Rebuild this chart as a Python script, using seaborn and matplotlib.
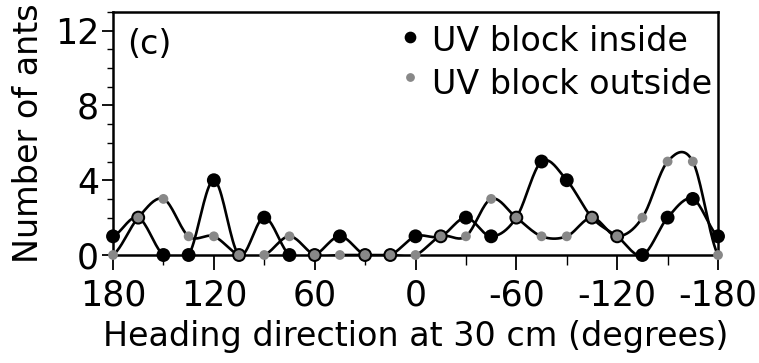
import numpy as np
import pandas as pd
import matplotlib
matplotlib.use("Agg")
import matplotlib.pyplot as plt
import seaborn as sns
from matplotlib.ticker import MultipleLocator

sns.set_theme(style="white")
plt.rcParams['font.family'] = ['DejaVu Sans']
plt.rcParams['text.color'] = 'black'
plt.rcParams['axes.labelcolor'] = 'black'

heading = [180, 165, 150, 135, 120, 105, 90, 75, 60, 45, 30, 15, 0,
           -15, -30, -45, -60, -75, -90, -105, -120, -135, -150, -165, -180]
uv_inside = [1, 2, 0, 0, 4, 0, 2, 0, 0, 1, 0, 0, 1, 1, 2, 1, 2, 5, 4, 2, 1, 0, 2, 3, 1]
uv_outside = [0, 2, 3, 1, 1, 0, 0, 1, 0, 0, 0, 0, 0, 1, 1, 3, 2, 1, 1, 2, 1, 2, 5, 5, 0]
xticks = [180, 120, 60, 0, -60, -120, -180]
yticks = [0, 4, 8, 12]


def smooth_curve(x, y, n=20):
    # Catmull-Rom spline for drawing the connecting curve through the points
    x = np.asarray(x, float)
    y = np.asarray(y, float)
    px = np.concatenate([[2 * x[0] - x[1]], x, [2 * x[-1] - x[-2]]])
    py = np.concatenate([[y[0]], y, [y[-1]]])
    xs, ys = [], []
    t = np.linspace(0, 1, n, endpoint=False)
    for i in range(1, len(px) - 2):
        for arr, a in ((ys, py), (xs, px)):
            a0, a1, a2, a3 = a[i - 1], a[i], a[i + 1], a[i + 2]
            arr.extend(0.5 * (2 * a1 + (-a0 + a2) * t + (2 * a0 - 5 * a1 + 4 * a2 - a3) * t ** 2
                              + (-a0 + 3 * a1 - 3 * a2 + a3) * t ** 3))
    xs.append(x[-1])
    ys.append(y[-1])
    return np.array(xs), np.array(ys)


fig = plt.figure(figsize=(7.59, 3.63), dpi=100)
ax = fig.add_axes([0.1489, 0.2975, 0.7971, 0.6695])

for vals in (uv_inside, uv_outside):
    cx, cy = smooth_curve(heading, vals)
    sns.lineplot(x=cx, y=cy, sort=False, color='black', lw=1.9, ax=ax, zorder=2)

df_in = pd.DataFrame({'x': heading, 'y': uv_inside})
df_out = pd.DataFrame({'x': heading, 'y': uv_outside})
sns.scatterplot(data=df_in, x='x', y='y', color='black', s=100, edgecolor='none',
                ax=ax, zorder=3, clip_on=False)
sns.scatterplot(data=df_out, x='x', y='y', color='#888888', s=50, edgecolor='none',
                ax=ax, zorder=4, clip_on=False)

ax.set_xlim(180, -180)
ax.set_ylim(0, 13)
ax.set_xticks(xticks)
ax.set_xticklabels([str(v) for v in xticks])
ax.set_yticks(yticks)
ax.xaxis.set_minor_locator(MultipleLocator(30))
ax.yaxis.set_minor_locator(MultipleLocator(1))
ax.tick_params(axis='x', which='major', direction='out', length=11, width=1.3,
               color='black', labelsize=25, labelcolor='black', pad=6, bottom=True)
ax.tick_params(axis='x', which='minor', direction='out', length=7, width=1,
               color='black', bottom=True)
ax.tick_params(axis='y', which='major', direction='out', length=8, width=1.3,
               color='black', labelsize=25, labelcolor='black', pad=2, left=True)
ax.tick_params(axis='y', which='minor', direction='out', length=4, width=1,
               color='black', left=True)
for s in ax.spines.values():
    s.set_color('black')
    s.set_linewidth(1.8)

ax.set_xlabel('Heading direction at 30 cm (degrees)', fontsize=24, color='black', labelpad=5)
ax.set_ylabel('Number of ants', fontsize=24, color='black', labelpad=7)

ax.text(0.023, 0.934, '(c)', transform=ax.transAxes, fontsize=24, va='top', ha='left',
        color='black')

# legend
ax.scatter([0.491], [0.897], transform=ax.transAxes, s=55, color='black', clip_on=False)
ax.text(0.527, 0.84, 'UV block inside', transform=ax.transAxes, fontsize=24,
        va='baseline', color='black')
ax.scatter([0.491], [0.733], transform=ax.transAxes, s=28, color='#888888', clip_on=False)
ax.text(0.527, 0.663, 'UV block outside', transform=ax.transAxes, fontsize=24,
        va='baseline', color='black')

fig.savefig('out.png', dpi=100)
